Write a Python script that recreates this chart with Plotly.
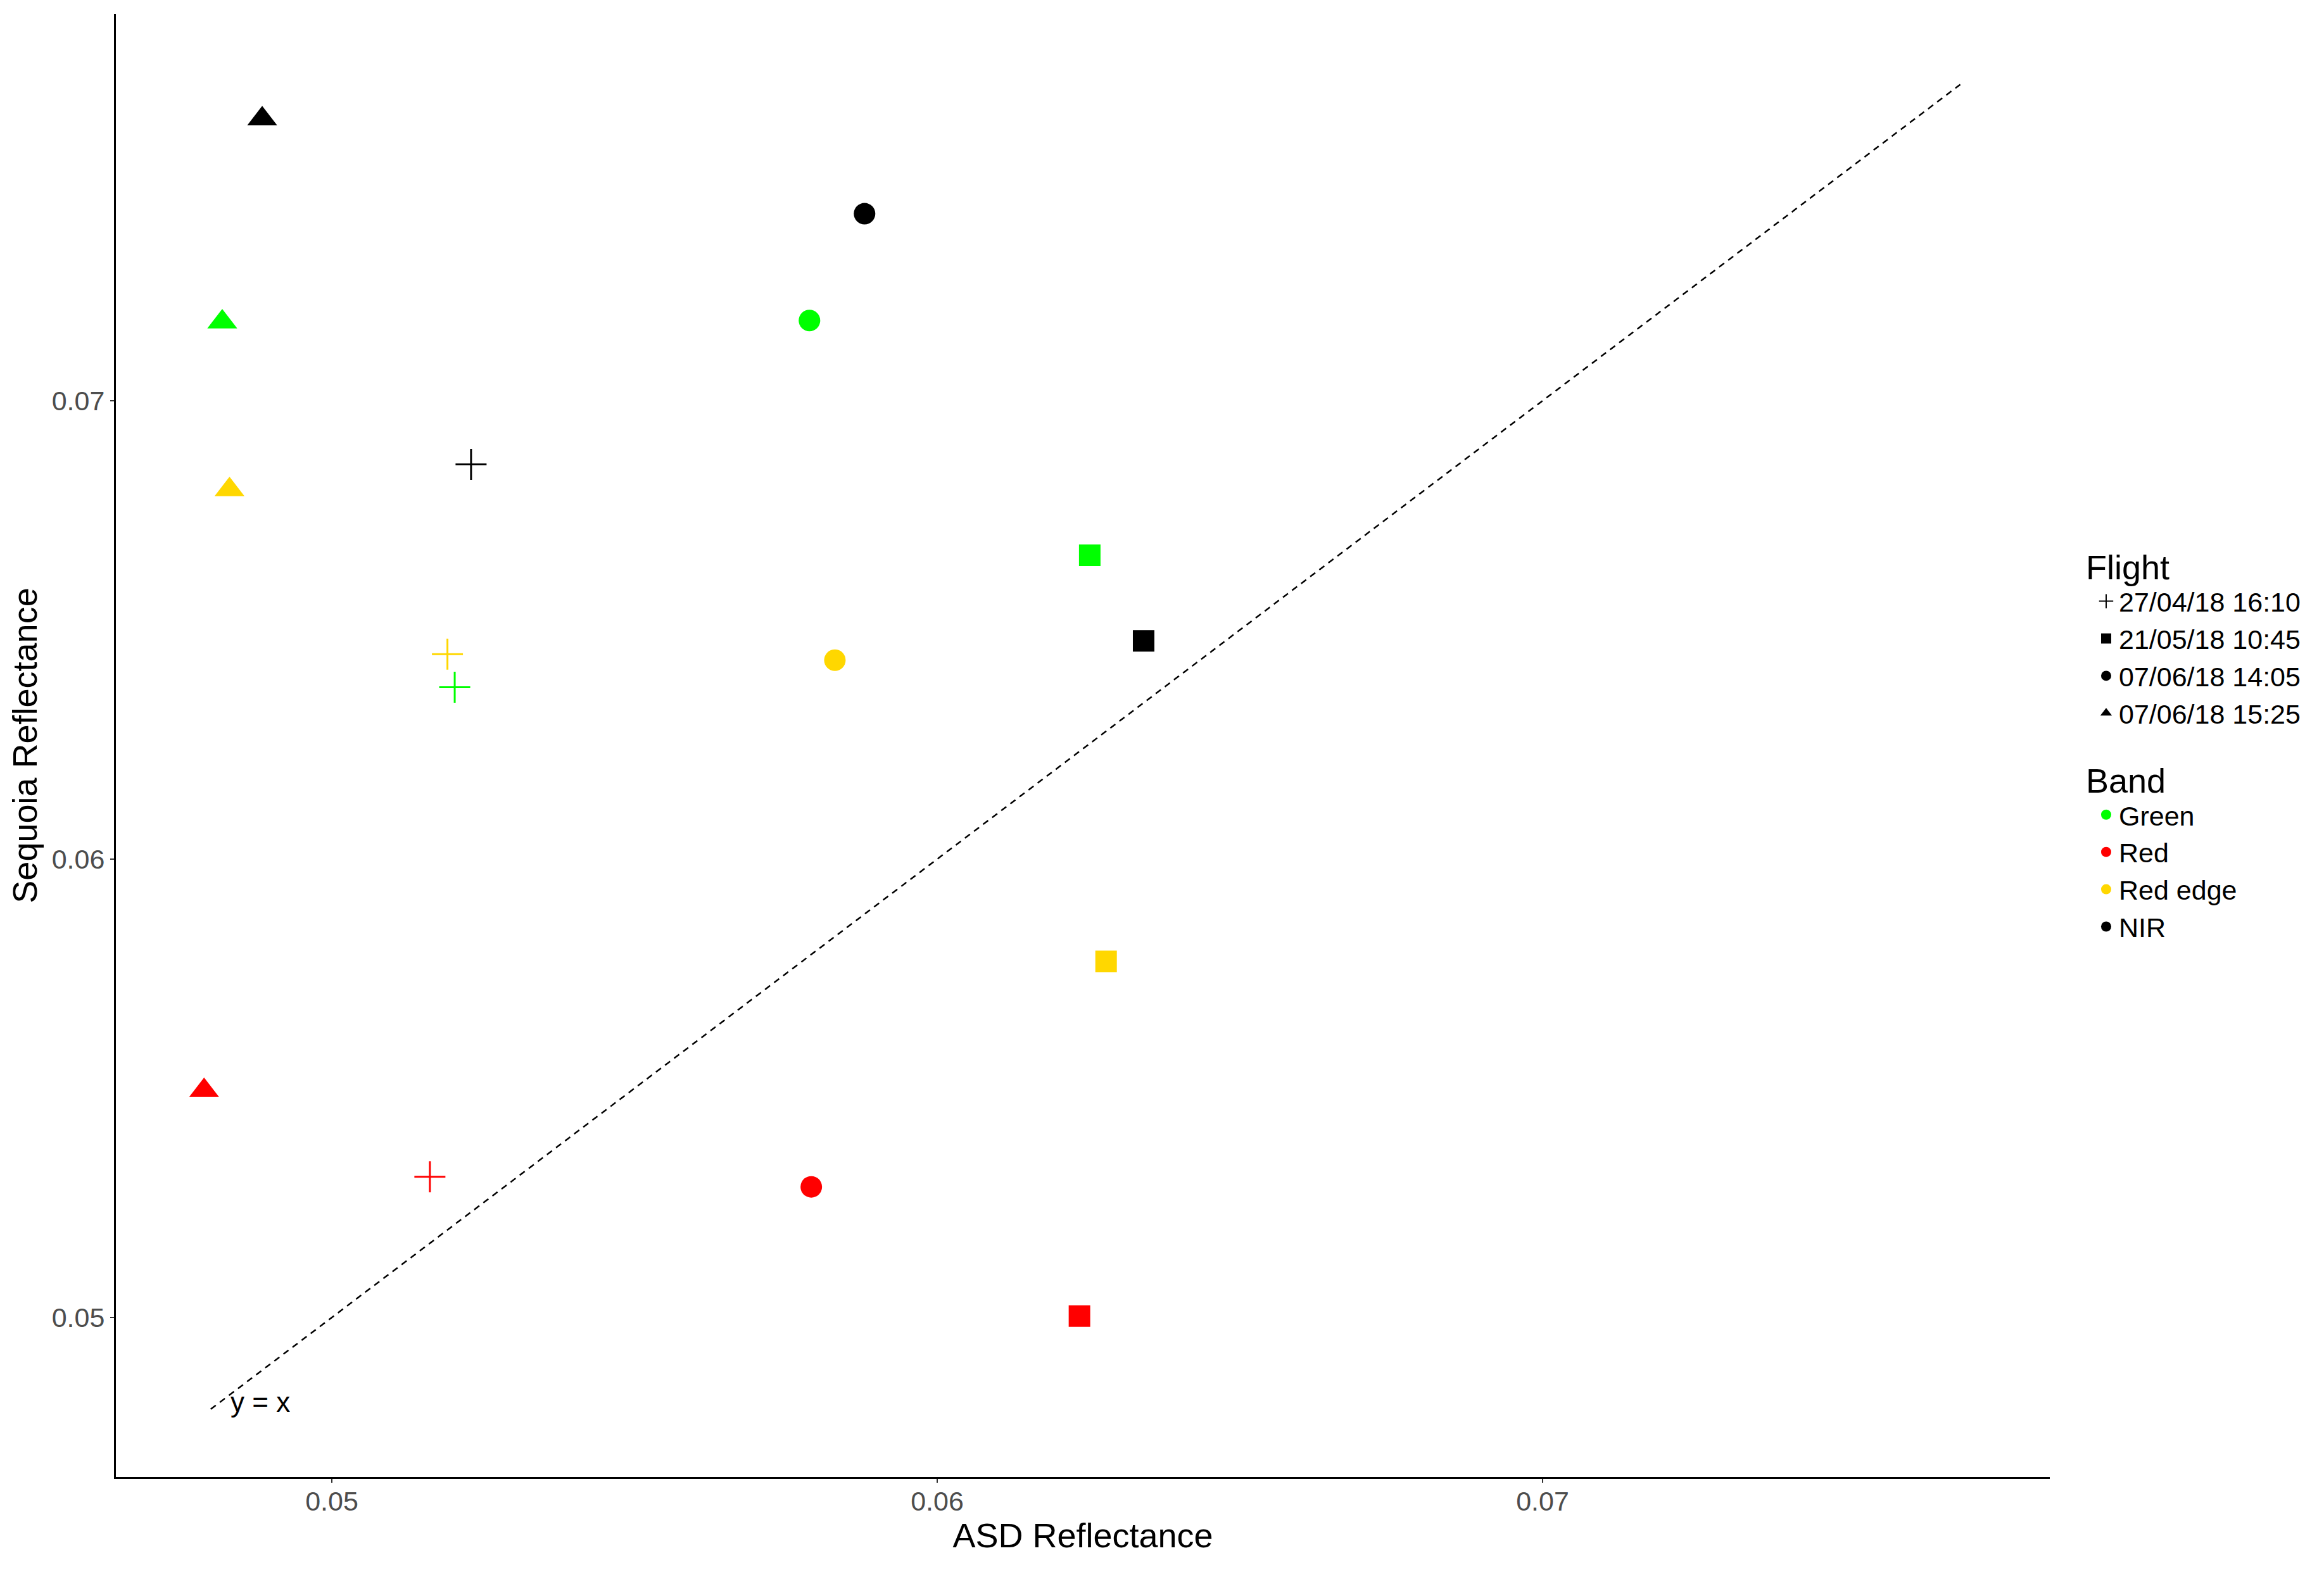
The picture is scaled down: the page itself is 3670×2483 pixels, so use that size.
import plotly.graph_objects as go

# ---- data ----
bands = ["Green", "Red", "Red edge", "NIR"]
band_colors = ["#00FF00", "#FF0000", "#FFD700", "#000000"]

flights = ["27/04/18 16:10", "21/05/18 10:45", "07/06/18 14:05", "07/06/18 15:25"]
flight_symbols = ["cross-thin", "square", "circle", "triangle-up"]

# ASD reflectance (x) per flight, in band order
asd_f1 = [0.05203, 0.05162, 0.05191, 0.05230]
asd_f2 = [0.06252, 0.06235, 0.06279, 0.06341]
asd_f3 = [0.05789, 0.05792, 0.05831, 0.05880]
asd_f4 = [0.04819, 0.04789, 0.04831, 0.04885]

# Sequoia reflectance (y) per flight, in band order
seq_f1 = [0.06375, 0.05307, 0.06447, 0.06861]
seq_f2 = [0.06663, 0.05003, 0.05777, 0.06476]
seq_f3 = [0.07175, 0.05285, 0.06434, 0.07408]
seq_f4 = [0.07172, 0.05495, 0.06806, 0.07615]

asd_values = [asd_f1, asd_f2, asd_f3, asd_f4]
seq_values = [seq_f1, seq_f2, seq_f3, seq_f4]

identity_line = [0.0480, 0.0769]
identity_label = "y = x"
identity_label_pos = [0.04882, 0.04816]

x_ticks = [0.05, 0.06, 0.07]
x_tick_labels = ["0.05", "0.06", "0.07"]
y_ticks = [0.05, 0.06, 0.07]
y_tick_labels = ["0.05", "0.06", "0.07"]

x_range = [0.046433, 0.078379]
y_range = [0.046519, 0.078439]

FONT = "Liberation Sans, Arial, sans-serif"
marker_sizes = {"cross-thin": 35, "square": 34, "circle": 34, "triangle-up": 41}

# page body has an 8px default margin; compensate so the plot area lands
# where the reference has it
PAGE_OFF = 8
W, H = 3670 - PAGE_OFF, 2483 - PAGE_OFF
PLOT_L, PLOT_T, PLOT_R, PLOT_B = 183, 22, 3237, 2333

fig = go.Figure()

# identity line
fig.add_trace(go.Scatter(
    x=identity_line, y=identity_line, mode="lines",
    line=dict(color="black", width=2.5, dash="10px,8px"),
    showlegend=False, hoverinfo="skip"))

# data points: one trace per flight, coloured by band
for fl, sym, xs, ys in zip(flights, flight_symbols, asd_values, seq_values):
    is_cross = sym == "cross-thin"
    fig.add_trace(go.Scatter(
        x=xs, y=ys, mode="markers", name=fl, showlegend=False,
        text=bands,
        marker=dict(
            symbol=sym, size=marker_sizes[sym], color=band_colors,
            line=dict(color=band_colors, width=3 if is_cross else 0)),
    ))

# legend entries: Flight (shapes)
for fl, sym in zip(flights, flight_symbols):
    is_cross = sym == "cross-thin"
    fig.add_trace(go.Scatter(
        x=[None], y=[None], mode="markers", name=fl, legend="legend",
        marker=dict(symbol=sym, size=16, color="black",
                    line=dict(color="black", width=2 if is_cross else 0)),
    ))

# legend entries: Band (colours)
for bd, col in zip(bands, band_colors):
    fig.add_trace(go.Scatter(
        x=[None], y=[None], mode="markers", name=bd, legend="legend2",
        marker=dict(symbol="circle", size=16, color=col),
    ))

fig.add_annotation(
    x=identity_label_pos[0], y=identity_label_pos[1], text=identity_label,
    showarrow=False, font=dict(family=FONT, size=44, color="black"),
    xanchor="center", yanchor="middle")

axis_common = dict(
    showline=True, linecolor="black", linewidth=3, mirror=False,
    ticks="outside", ticklen=6, tickwidth=2, tickcolor="#333333",
    tickfont=dict(family=FONT, size=43, color="#4D4D4D"),
    showgrid=False, zeroline=False, automargin=False,
)

fig.update_layout(
    width=W, height=H,
    margin=dict(l=PLOT_L - PAGE_OFF, r=W + PAGE_OFF - PLOT_R,
                t=PLOT_T - PAGE_OFF, b=H + PAGE_OFF - PLOT_B),
    paper_bgcolor="white", plot_bgcolor="white",
    font=dict(family=FONT, color="black"),
    xaxis=dict(range=x_range, tickvals=x_ticks, ticktext=x_tick_labels,
               ticklabelstandoff=-8,
               title=dict(text="ASD Reflectance", standoff=12,
                          font=dict(family=FONT, size=54, color="black")),
               **axis_common),
    yaxis=dict(range=y_range, tickvals=y_ticks, ticktext=y_tick_labels,
               ticklabelstandoff=0,
               title=dict(text="Sequoia Reflectance", standoff=6,
                          font=dict(family=FONT, size=54, color="black")),
               **axis_common),
    legend=dict(
        x=1.018, y=0.6439, xanchor="left", yanchor="top",
        title=dict(text="Flight", font=dict(family=FONT, size=54, color="black")),
        font=dict(family=FONT, size=43, color="black"),
        bgcolor="rgba(0,0,0,0)", itemsizing="trace", indentation=14,
        tracegroupgap=0),
    legend2=dict(
        x=1.018, y=0.498, xanchor="left", yanchor="top",
        title=dict(text="Band", font=dict(family=FONT, size=54, color="black")),
        font=dict(family=FONT, size=43, color="black"),
        bgcolor="rgba(0,0,0,0)", itemsizing="trace", indentation=14,
        tracegroupgap=0),
)

fig.write_html("out.html")
